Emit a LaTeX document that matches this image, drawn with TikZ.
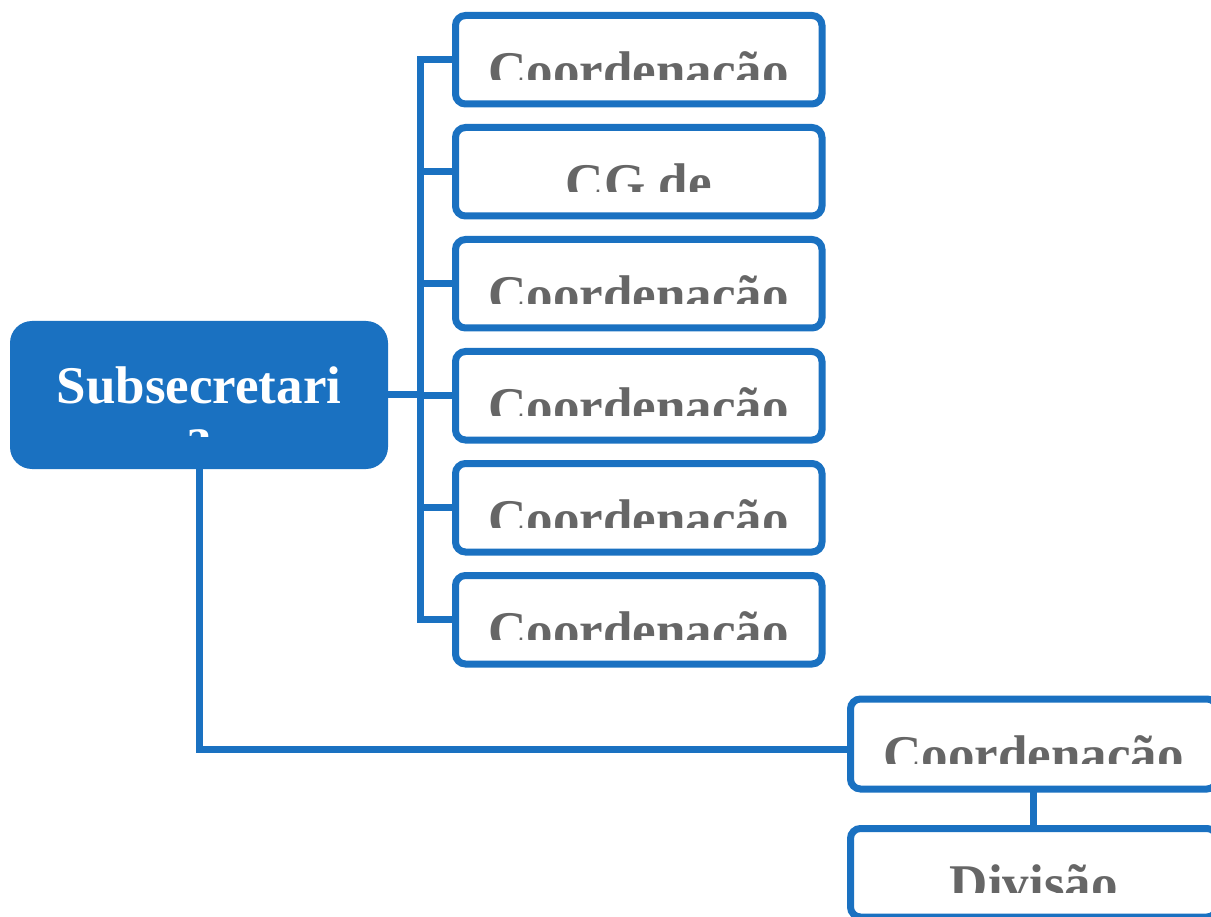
\documentclass[tikz,border=0pt]{standalone}
\usepackage{fontspec}
\setmainfont{Liberation Serif}
\definecolor{orgblue}{RGB}{26,113,193}
\definecolor{txtgray}{RGB}{102,102,102}
\begin{document}
\begin{tikzpicture}[x=1pt,y=-1pt,
  box/.style={draw=orgblue, line width=7pt, rounded corners=10pt, fill=white,
    minimum width=366.5pt, minimum height=88.5pt, inner sep=0pt, outer sep=0pt, anchor=north west},
  headbox/.style={fill=orgblue, rounded corners=22pt, minimum width=378pt, minimum height=148pt,
    inner sep=0pt, outer sep=0pt, anchor=north west},
  link/.style={draw=orgblue, line width=7pt},
  trunkline/.style={link, line cap=rect},
  lbl/.style={text=txtgray, font=\fontsize{53}{53}\selectfont\bfseries, anchor=base, inner sep=0pt},
  headlbl/.style={text=white, font=\fontsize{53}{53}\selectfont\bfseries, anchor=base, inner sep=0pt},
]
\useasboundingbox (0,0) rectangle (1211,917);
\clip (0,0) rectangle (1211,917);

% head box
\node[headbox] (sub) at (10,321) {};
\begin{scope}
  \clip (10,321) rectangle (388,436.5);
  \node[headlbl] (subl1) at (199,403) {Subsecretari};
  \node[headlbl] (subl2) at (199,454) {a};
\end{scope}

% right column
\foreach \i/\t in {1/Coordenação,2/CG de,3/Coordenação,4/Coordenação,5/Coordenação,6/Coordenação}{
  \pgfmathsetmacro{\top}{15.5+112*(\i-1)}
  \node[box] (b\i) at (455.5,\top) {};
  \begin{scope}
    \clip (455.5,\top) rectangle (822,\top+64);
    \node[lbl] (l\i) at (638.75,\top+73) {\t};
  \end{scope}
}

% bottom boxes
\node[box, minimum height=90pt] (b7) at (850.5,699) {};
\begin{scope}
  \clip (850.5,699) rectangle (1217,763);
  \node[lbl] (l7) at (1033.75,772) {Coordenação};
\end{scope}
\node[box] (b8) at (850.5,828.5) {};
\begin{scope}
  \clip (850.5,828.5) rectangle (1217,892.5);
  \node[lbl] (l8) at (1033.75,901.5) {Divisão};
\end{scope}

% connectors
\coordinate (trunk) at (420.5,0);
\draw[trunkline] (b1.west -| trunk) -- (b6.west -| trunk);
\foreach \i in {1,...,6}{
  \draw[link] (b\i.west -| trunk) -- (b\i.west);
}
\draw[link] (sub.east) -- (sub.east -| trunk);
\draw[link] (sub.south) |- ([yshift=-5pt]b7.west);
\draw[link] (b7.south) -- (b8.north);
\end{tikzpicture}
\end{document}
